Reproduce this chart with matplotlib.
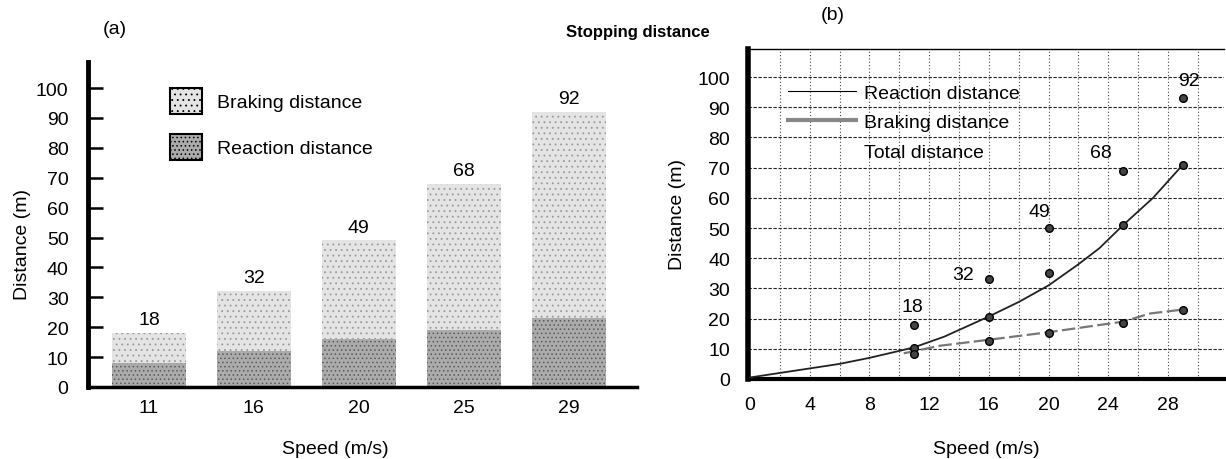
import matplotlib
matplotlib.use("Agg")
import matplotlib.pyplot as plt
from matplotlib.patches import Patch
from matplotlib.lines import Line2D

plt.rcParams['font.family'] = ['Liberation Sans', 'DejaVu Sans']
plt.rcParams['hatch.linewidth'] = 0.6

# (a) bar chart data
speeds = ['11', '16', '20', '25', '29']
reaction = [8, 12, 16, 19, 23]
total = [18, 32, 49, 68, 92]
braking = [t - r for t, r in zip(total, reaction)]

# (b) points
pt_speed = [11, 16, 20, 25, 29]
pt_total = [18, 33, 50, 69, 93]
pt_braking = [10.3, 20.7, 35, 51, 71]
pt_reaction = [8.3, 12.7, 15.3, 18.7, 23]

# (b) drawn lines
curve_x = [0, 2, 4, 6, 8, 10, 11, 13, 16, 18, 20, 22, 23.4, 25, 27, 29]
curve_y = [0.5, 2, 3.5, 5, 7, 9.3, 10.5, 14, 20.7, 25.5, 31, 38, 43.3, 51, 60, 71]
line_x = [10.3, 12.7, 16, 20, 25, 26.8, 29]
line_y = [8.5, 11, 13, 15.5, 19, 21.7, 23]

label_txt = ['18', '32', '49', '68', '92']
label_x = [10.9, 14.3, 19.4, 23.5, 29.4]
label_y = [24, 34.5, 55.6, 75, 99]

FS = 14
W, H = 1226, 460
fig = plt.figure(figsize=(W / 100, H / 100), dpi=100)

# ---------- panel (a) ----------
ax1 = fig.add_axes([88 / W, 1 - 388 / H, (637 - 88) / W, (388 - 63) / H])
pos = list(range(len(speeds)))
ax1.bar(pos, reaction, width=0.70, color='#ababab', hatch='....',
        edgecolor='#5a5a5a', linewidth=0)
ax1.bar(pos, braking, bottom=reaction, width=0.70, color='#e4e4e4',
        hatch='...', edgecolor='#9a9a9a', linewidth=0)
for p, t in zip(pos, total):
    ax1.text(p, t + 4.5, str(t), ha='center', va='center', fontsize=FS)

ax1.set_xlim(-0.58, 4.65)
ax1.set_ylim(0, 108.7)
ax1.set_xticks(pos)
ax1.set_xticklabels(speeds)
ax1.set_yticks(range(0, 101, 10))
ax1.tick_params(axis='y', direction='in', length=11, width=1.8, pad=14,
                labelsize=FS)
ax1.tick_params(axis='x', length=0, pad=9, labelsize=FS)
for s in ['top', 'right']:
    ax1.spines[s].set_visible(False)
ax1.spines['left'].set_linewidth(3.5)
ax1.spines['bottom'].set_linewidth(2.5)
ax1.set_ylabel('Distance (m)', fontsize=FS)
ax1.yaxis.set_label_coords(-(88 - 31) / (637 - 88), 0.44)
ax1.set_xlabel('Speed (m/s)', fontsize=FS)
ax1.xaxis.set_label_coords((335 - 88) / (637 - 88), -(441 - 388) / (388 - 63))

leg1 = ax1.legend(handles=[Patch(facecolor='#e4e4e4', hatch='...', edgecolor='black', linewidth=1.5),
                           Patch(facecolor='#ababab', hatch='....', edgecolor='black', linewidth=1.5)],
                  labels=['Braking distance', 'Reaction distance'],
                  loc='upper left', bbox_to_anchor=(170 / W, 1 - 89 / H),
                  bbox_transform=fig.transFigure, frameon=False, fontsize=FS,
                  handlelength=1.65, handleheight=1.65, labelspacing=1.05,
                  handletextpad=0.75, borderpad=0, borderaxespad=0)

# ---------- panel (b) ----------
ax2 = fig.add_axes([748 / W, 1 - 380 / H, (1224 - 748) / W, (380 - 50) / H])
ax2.set_xlim(-0.13, 31.75)
ax2.set_ylim(0, 109.3)
for yv in range(10, 101, 10):
    ax2.axhline(yv, color='#222222', lw=0.8, ls=(0, (3, 1.5)), zorder=1)
for xv in range(2, 31, 2):
    ax2.axvline(xv, color='#444444', lw=0.8, ls=(0, (1, 2)), zorder=1)

ax2.plot(curve_x, curve_y, color='#222222', lw=1.3, zorder=3)
ax2.plot(line_x, line_y, color='#777777', lw=1.6, ls=(0, (6, 2)), zorder=3)
for ys in [pt_total, pt_braking, pt_reaction]:
    ax2.plot(pt_speed, ys, 'o', ms=5.5, mfc='#444444', mec='black', mew=1,
             ls='none', zorder=4)
for t, x, y in zip(label_txt, label_x, label_y):
    ax2.text(x, y, t, ha='center', va='center', fontsize=FS, zorder=5)

ax2.set_xticks(range(0, 29, 4))
ax2.set_yticks(range(0, 101, 10))
ax2.tick_params(length=0, labelsize=FS)
ax2.tick_params(axis='y', pad=13)
ax2.tick_params(axis='x', pad=12)
ax2.spines['right'].set_visible(False)
ax2.spines['top'].set_linewidth(1.0)
ax2.spines['left'].set_linewidth(4)
ax2.spines['bottom'].set_linewidth(3)
ax2.set_ylabel('Distance (m)', fontsize=FS)
ax2.yaxis.set_label_coords(-(748 - 686) / (1224 - 748), 0.5)
ax2.set_xlabel('Speed (m/s)', fontsize=FS)
ax2.xaxis.set_label_coords((986 - 748) / (1224 - 748), -(441 - 380) / (380 - 50))

leg2 = ax2.legend(handles=[Line2D([], [], color='black', lw=0.8),
                           Line2D([], [], color='#888888', lw=3),
                           Line2D([], [], color='none')],
                  labels=['Reaction distance', 'Braking distance', 'Total distance'],
                  loc='upper left', bbox_to_anchor=(788 / W, 1 - 85 / H),
                  bbox_transform=fig.transFigure, frameon=False, fontsize=FS,
                  handlelength=3.5, handletextpad=0.4, labelspacing=0.62,
                  borderpad=0, borderaxespad=0)

# ---------- titles ----------
fig.text(115 / W, 1 - 30 / H, '(a)', ha='center', va='center', fontsize=14)
fig.text(833 / W, 1 - 15 / H, '(b)', ha='center', va='center', fontsize=14)
fig.text(710 / W, 1 - 33 / H, 'Stopping distance', ha='right', va='center',
         fontsize=12, fontweight='bold')

fig.savefig('out.png', dpi=100)
